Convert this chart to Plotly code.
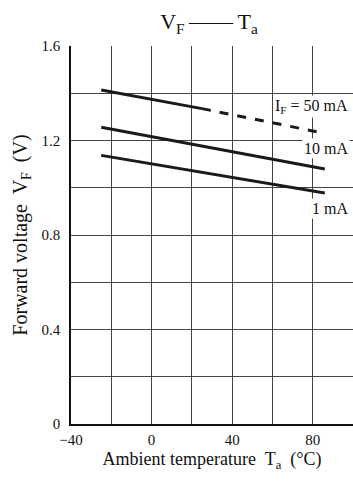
import plotly.graph_objects as go

# Data
temp_50_solid = [-25, 25]
vf_50_solid = [1.414, 1.335]
temp_50_dash = [25, 85]
vf_50_dash = [1.335, 1.232]
temp_10 = [-25, 86]
vf_10 = [1.256, 1.079]
temp_1 = [-25, 86]
vf_1 = [1.137, 0.978]

x_tickvals = [-40, 0, 40, 80]
x_ticktext = ["\u221240", "0", "40", "80"]
y_tickvals = [0, 0.4, 0.8, 1.2, 1.6]
y_ticktext = ["0", "0.4", "0.8", "1.2", "1.6"]

labels = ["I<sub>F</sub> = 50 mA", "10 mA", "1 mA"]
label_x = [79.5, 86.7, 88.4]
label_y = [1.342, 1.168, 0.914]

FONT = "Liberation Serif, Times New Roman, serif"
LINE = "#1a1a1a"
GRID = "#444"

fig = go.Figure()
fig.add_trace(go.Scatter(x=temp_50_solid, y=vf_50_solid, mode="lines",
                         line=dict(color=LINE, width=3), showlegend=False))
fig.add_trace(go.Scatter(x=temp_50_dash, y=vf_50_dash, mode="lines",
                         line=dict(color=LINE, width=3, dash="dash"), showlegend=False))
fig.add_trace(go.Scatter(x=temp_10, y=vf_10, mode="lines",
                         line=dict(color=LINE, width=3), showlegend=False))
fig.add_trace(go.Scatter(x=temp_1, y=vf_1, mode="lines",
                         line=dict(color=LINE, width=3), showlegend=False))

for t, lx, ly in zip(labels, label_x, label_y):
    fig.add_annotation(x=lx, y=ly, text=t, showarrow=False,
                       font=dict(family=FONT, size=16, color="#111"),
                       bgcolor="white", borderpad=1)

fig.update_layout(
    width=353, height=481,
    margin=dict(l=71, r=0, t=46, b=57, autoexpand=False),
    paper_bgcolor="white", plot_bgcolor="white",
    font=dict(family=FONT, size=14, color="#111"),
    title=dict(text="V<sub>F</sub>\u2009\u2014\u2014\u2009T<sub>a</sub>",
               x=0.592, xanchor="center",
               y=0.955, yanchor="middle", font=dict(family=FONT, size=22, color="#111")),
)
fig.update_xaxes(range=[-40, 100], tickvals=x_tickvals, ticktext=x_ticktext,
                 showgrid=True, gridcolor=GRID, gridwidth=1,
                 minor=dict(tick0=-40, dtick=20, showgrid=True, gridcolor=GRID, gridwidth=1),
                 showline=True, linecolor="#111", linewidth=1.5, automargin=False,
                 zeroline=False, ticks="", ticklabelstandoff=1,
                 tickfont=dict(family=FONT, size=15, color="#111"),
                 title=dict(text="Ambient temperature  T<sub>a</sub>  (\u00b0C)",
                            font=dict(family=FONT, size=18, color="#111"), standoff=6))
fig.update_yaxes(range=[0, 1.6], tickvals=y_tickvals, ticktext=y_ticktext,
                 showgrid=True, gridcolor=GRID, gridwidth=1,
                 minor=dict(tick0=0, dtick=0.2, showgrid=True, gridcolor=GRID, gridwidth=1),
                 showline=True, linecolor="#111", linewidth=1.5, automargin=False,
                 zeroline=False, ticks="", ticklabelstandoff=6,
                 tickfont=dict(family=FONT, size=15, color="#111"),
                 title=dict(text="Forward voltage  V<sub>F</sub>  (V)",
                            font=dict(family=FONT, size=20, color="#111"), standoff=9))

fig.write_html("out.html", config={"displayModeBar": False},
               post_script="document.body.style.margin='0';document.body.style.overflow='hidden';")
